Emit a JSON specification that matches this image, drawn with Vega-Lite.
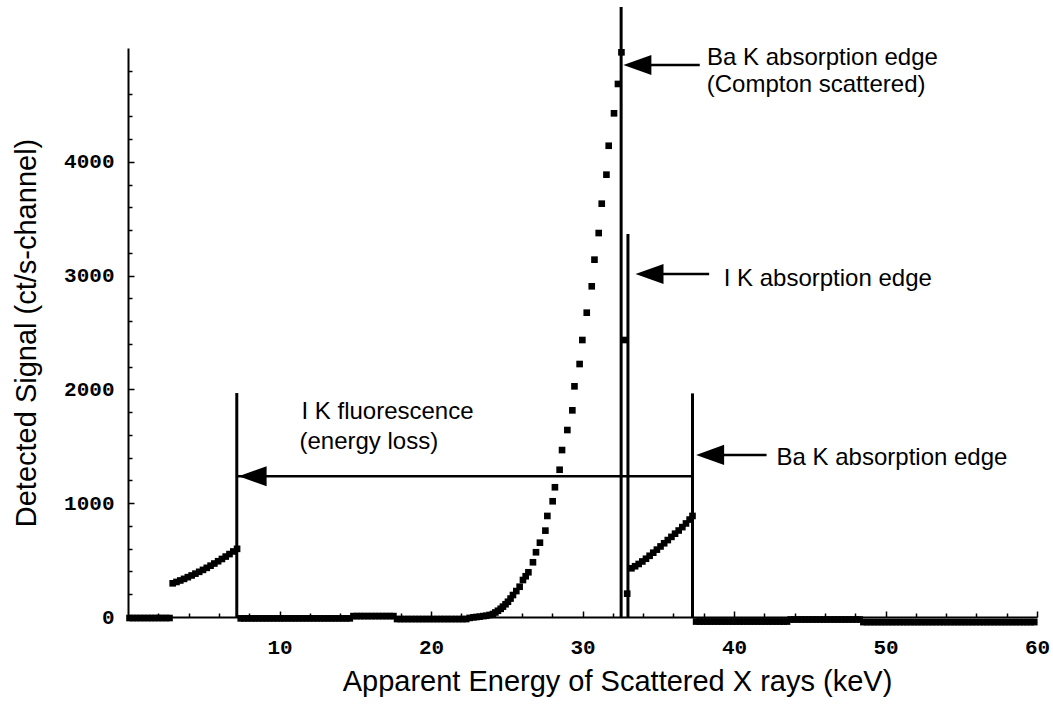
{
  "$schema": "https://vega.github.io/schema/vega-lite/v6.json",
  "width": 909,
  "height": 569,
  "autosize": "none",
  "padding": {"left": 128, "top": 48, "right": 16, "bottom": 91},
  "background": "white",
  "config": {"view": {"stroke": null}},
  "datasets": {
    "pts": [
      {"x":0.1,"y":-9},{"x":0.34,"y":-9},{"x":0.58,"y":-9},{"x":0.82,"y":-9},{"x":1.06,"y":-9},{"x":1.3,"y":-9},{"x":1.54,"y":-9},{"x":1.78,"y":-9},{"x":2.02,"y":-9},{"x":2.26,"y":-9},{"x":2.5,"y":-9},{"x":2.74,"y":-9},
      {"x":2.95,"y":296},{"x":3.2,"y":308},{"x":3.45,"y":321},{"x":3.7,"y":335},{"x":3.95,"y":350},{"x":4.2,"y":365},{"x":4.45,"y":381},{"x":4.7,"y":397},{"x":4.95,"y":414},{"x":5.2,"y":432},{"x":5.45,"y":451},{"x":5.7,"y":470},{"x":5.95,"y":490},{"x":6.2,"y":510},{"x":6.45,"y":531},{"x":6.7,"y":553},{"x":6.95,"y":576},{"x":7.2,"y":599},
      {"x":7.44,"y":-12},{"x":7.68,"y":-12},{"x":7.92,"y":-12},{"x":8.16,"y":-12},{"x":8.4,"y":-12},{"x":8.64,"y":-12},{"x":8.88,"y":-12},{"x":9.12,"y":-12},{"x":9.36,"y":-12},{"x":9.6,"y":-12},{"x":9.84,"y":-12},{"x":10.08,"y":-12},{"x":10.32,"y":-12},{"x":10.56,"y":-12},{"x":10.8,"y":-12},{"x":11.04,"y":-12},{"x":11.28,"y":-12},{"x":11.52,"y":-12},{"x":11.76,"y":-12},{"x":12.0,"y":-12},{"x":12.24,"y":-12},{"x":12.48,"y":-12},{"x":12.72,"y":-12},{"x":12.96,"y":-12},{"x":13.2,"y":-12},{"x":13.44,"y":-12},{"x":13.68,"y":-12},{"x":13.92,"y":-12},{"x":14.16,"y":-12},{"x":14.4,"y":-12},{"x":14.64,"y":-12},
      {"x":14.88,"y":8},{"x":15.12,"y":8},{"x":15.36,"y":8},{"x":15.6,"y":8},{"x":15.84,"y":8},{"x":16.08,"y":8},{"x":16.32,"y":8},{"x":16.56,"y":8},{"x":16.8,"y":8},{"x":17.04,"y":8},{"x":17.28,"y":8},{"x":17.52,"y":8},
      {"x":17.76,"y":-18},{"x":18.0,"y":-18},{"x":18.24,"y":-18},{"x":18.48,"y":-18},{"x":18.72,"y":-18},{"x":18.96,"y":-18},{"x":19.2,"y":-18},{"x":19.44,"y":-18},{"x":19.68,"y":-18},{"x":19.92,"y":-18},{"x":20.16,"y":-18},{"x":20.4,"y":-18},{"x":20.64,"y":-18},{"x":20.88,"y":-18},{"x":21.12,"y":-18},{"x":21.36,"y":-18},{"x":21.6,"y":-18},{"x":21.84,"y":-18},{"x":22.08,"y":-18},{"x":22.32,"y":-18},
      {"x":22.55,"y":-8},{"x":22.8,"y":-3},{"x":23.0,"y":0},{"x":23.21,"y":3},{"x":23.45,"y":8},{"x":23.65,"y":11},{"x":23.87,"y":18},{"x":24.09,"y":26},{"x":24.25,"y":40},{"x":24.42,"y":55},{"x":24.6,"y":72},{"x":24.75,"y":91},{"x":24.92,"y":112},{"x":25.08,"y":134},{"x":25.25,"y":162},{"x":25.41,"y":193},{"x":25.63,"y":228},{"x":25.85,"y":266},{"x":26.07,"y":325},{"x":26.25,"y":358},{"x":26.43,"y":393},{"x":26.73,"y":481},{"x":26.93,"y":569},{"x":27.19,"y":653},{"x":27.55,"y":759},{"x":27.68,"y":888},{"x":28.03,"y":1017},{"x":28.18,"y":1140},{"x":28.49,"y":1294},{"x":28.65,"y":1467},{"x":29.0,"y":1643},{"x":29.33,"y":1816},{"x":29.47,"y":2027},{"x":29.81,"y":2223},{"x":29.99,"y":2434},{"x":30.28,"y":2674},{"x":30.61,"y":2906},{"x":30.79,"y":3140},{"x":31.07,"y":3374},{"x":31.27,"y":3632},{"x":31.58,"y":3887},{"x":31.73,"y":4141},{"x":32.08,"y":4426},{"x":32.34,"y":4684},{"x":32.57,"y":4962},{"x":32.76,"y":2434},{"x":32.95,"y":205},
      {"x":33.23,"y":428},{"x":33.47,"y":446},{"x":33.71,"y":466},{"x":33.95,"y":488},{"x":34.19,"y":512},{"x":34.43,"y":538},{"x":34.67,"y":565},{"x":34.91,"y":592},{"x":35.15,"y":620},{"x":35.39,"y":648},{"x":35.63,"y":676},{"x":35.87,"y":704},{"x":36.11,"y":732},{"x":36.35,"y":760},{"x":36.59,"y":790},{"x":36.83,"y":822},{"x":37.07,"y":856},{"x":37.26,"y":888},
      {"x":37.5,"y":-40},{"x":37.74,"y":-40},{"x":37.98,"y":-40},{"x":38.22,"y":-40},{"x":38.46,"y":-40},{"x":38.7,"y":-40},{"x":38.94,"y":-40},{"x":39.18,"y":-40},{"x":39.42,"y":-40},{"x":39.66,"y":-40},{"x":39.9,"y":-40},{"x":40.14,"y":-40},{"x":40.38,"y":-40},{"x":40.62,"y":-40},{"x":40.86,"y":-40},{"x":41.1,"y":-40},{"x":41.34,"y":-40},{"x":41.58,"y":-40},{"x":41.82,"y":-40},{"x":42.06,"y":-40},{"x":42.3,"y":-40},{"x":42.54,"y":-40},{"x":42.78,"y":-40},{"x":43.02,"y":-40},{"x":43.26,"y":-40},{"x":43.5,"y":-40},
      {"x":43.74,"y":-22},{"x":43.98,"y":-22},{"x":44.22,"y":-22},{"x":44.46,"y":-22},{"x":44.7,"y":-22},{"x":44.94,"y":-22},{"x":45.18,"y":-22},{"x":45.42,"y":-22},{"x":45.66,"y":-22},{"x":45.9,"y":-22},{"x":46.14,"y":-22},{"x":46.38,"y":-22},{"x":46.62,"y":-22},{"x":46.86,"y":-22},{"x":47.1,"y":-22},{"x":47.34,"y":-22},{"x":47.58,"y":-22},{"x":47.82,"y":-22},{"x":48.06,"y":-22},{"x":48.3,"y":-22},
      {"x":48.54,"y":-45},{"x":48.78,"y":-45},{"x":49.02,"y":-45},{"x":49.26,"y":-45},{"x":49.5,"y":-45},{"x":49.74,"y":-45},{"x":49.98,"y":-45},{"x":50.22,"y":-45},{"x":50.46,"y":-45},{"x":50.7,"y":-45},{"x":50.94,"y":-45},{"x":51.18,"y":-45},{"x":51.42,"y":-45},{"x":51.66,"y":-45},{"x":51.9,"y":-45},{"x":52.14,"y":-45},{"x":52.38,"y":-45},{"x":52.62,"y":-45},{"x":52.86,"y":-45},{"x":53.1,"y":-45},{"x":53.34,"y":-45},{"x":53.58,"y":-45},{"x":53.82,"y":-45},{"x":54.06,"y":-45},{"x":54.3,"y":-45},{"x":54.54,"y":-45},{"x":54.78,"y":-45},{"x":55.02,"y":-45},{"x":55.26,"y":-45},{"x":55.5,"y":-45},{"x":55.74,"y":-45},{"x":55.98,"y":-45},{"x":56.22,"y":-45},{"x":56.46,"y":-45},{"x":56.7,"y":-45},{"x":56.94,"y":-45},{"x":57.18,"y":-45},{"x":57.42,"y":-45},{"x":57.66,"y":-45},{"x":57.9,"y":-45},{"x":58.14,"y":-45},{"x":58.38,"y":-45},{"x":58.62,"y":-45},{"x":58.86,"y":-45},{"x":59.1,"y":-45},{"x":59.34,"y":-45},{"x":59.58,"y":-45},{"x":59.82,"y":-45}
    ],
    "vlines": [
      {"x":7.18,"y":0,"y2":1968},
      {"x":37.26,"y":0,"y2":1965},
      {"x":32.55,"y":0,"y2":5360},
      {"x":33.0,"y":0,"y2":3365}
    ],
    "hlines": [
      {"x":7.18,"x2":37.26,"y":1237},
      {"x":33.5,"x2":37.74,"y":4851},
      {"x":34.2,"x2":38.36,"y":3014},
      {"x":38.2,"x2":42.15,"y":1424}
    ],
    "heads": [
      {"x":7.3,"y":1237},
      {"x":32.7,"y":4851},
      {"x":33.5,"y":3014},
      {"x":37.5,"y":1424}
    ],
    "labels": [
      {"x":38.22,"y":4909,"text":"Ba K absorption edge"},
      {"x":38.2,"y":4675,"text":"(Compton scattered)"},
      {"x":39.32,"y":2967,"text":"I K absorption edge"},
      {"x":11.45,"y":1801,"text":"I K fluorescence"},
      {"x":11.32,"y":1538,"text":"(energy loss)"},
      {"x":42.81,"y":1395,"text":"Ba K absorption edge"}
    ]
  },
  "encoding": {
    "x": {
      "field": "x", "type": "quantitative",
      "scale": {"domain": [0, 60], "nice": false, "zero": false},
      "axis": {
        "title": "Apparent Energy of Scattered X rays (keV)",
        "values": [2,4,6,8,10,12,14,16,18,20,22,24,26,28,30,32,34,36,38,40,42,44,46,48,50,52,54,56,58,60],
        "labelExpr": "datum.value % 10 === 0 ? datum.label : ''",
        "format": "d",
        "grid": false,
        "domainColor": "black", "domainWidth": 2,
        "tickColor": "black", "tickWidth": 1.5,
        "tickSize": {"condition": {"test": "datum.value % 10 === 0", "value": -6}, "value": -4},
        "labelFont": "Liberation Mono", "labelFontWeight": "bold", "labelColor": "black",
        "labelFontSize": {"condition": {"test": "datum.value % 10 === 0", "value": 21}, "value": 1},
        "labelPadding": 25, "labelFlush": false, "labelOverlap": false, "labelBound": false,
        "titleFont": "Liberation Sans", "titleFontSize": 29, "titleFontWeight": "normal", "titleColor": "black",
        "titlePadding": 10, "titleX": 489
      }
    },
    "y": {
      "field": "y", "type": "quantitative",
      "scale": {"domain": [0, 5000], "nice": false, "zero": false},
      "axis": {
        "title": "Detected Signal (ct/s-channel)",
        "values": [0,200,400,600,800,1000,1200,1400,1600,1800,2000,2200,2400,2600,2800,3000,3200,3400,3600,3800,4000,4200,4400,4600,4800],
        "labelExpr": "datum.value % 1000 === 0 ? datum.label : ''",
        "format": "d",
        "grid": false,
        "domainColor": "black", "domainWidth": 2,
        "tickColor": "black", "tickWidth": 1.5,
        "tickSize": {"condition": {"test": "datum.value % 1000 === 0", "value": -6}, "value": -4},
        "labelFont": "Liberation Mono", "labelFontWeight": "bold", "labelColor": "black",
        "labelFontSize": {"condition": {"test": "datum.value % 1000 === 0", "value": 21}, "value": 1},
        "labelPadding": 20, "labelFlush": false, "labelOverlap": false, "labelBound": false,
        "titleFont": "Liberation Sans", "titleFontSize": 29, "titleFontWeight": "normal", "titleColor": "black",
        "titlePadding": 22
      }
    }
  },
  "layer": [
    {
      "data": {"name": "pts"},
      "mark": {"type": "point", "shape": "square", "filled": true, "size": 44, "color": "black", "opacity": 1}
    },
    {
      "data": {"name": "vlines"},
      "mark": {"type": "rule", "color": "black", "strokeWidth": 3},
      "encoding": {
        "y2": {"field": "y2"}
      }
    },
    {
      "data": {"name": "hlines"},
      "mark": {"type": "rule", "color": "black", "strokeWidth": 2.5},
      "encoding": {
        "x2": {"field": "x2"}
      }
    },
    {
      "data": {"name": "heads"},
      "mark": {"type": "point", "shape": "M0,0L2,-0.72L2,0.72Z", "filled": true, "size": 784, "color": "black", "opacity": 1}
    },
    {
      "data": {"name": "labels"},
      "mark": {"type": "text", "align": "left", "baseline": "middle", "font": "Liberation Sans", "fontSize": 24, "color": "black"},
      "encoding": {
        "text": {"field": "text"}
      }
    }
  ]
}
